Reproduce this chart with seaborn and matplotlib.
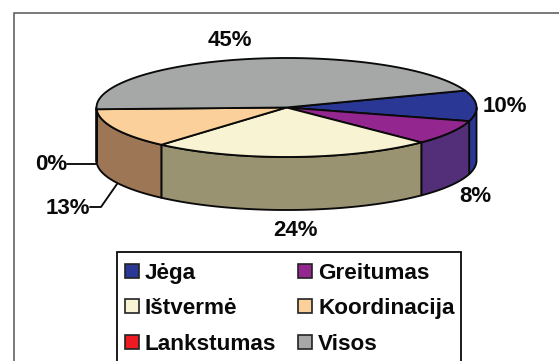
import numpy as np
import matplotlib
matplotlib.use("Agg")
import matplotlib.pyplot as plt
from matplotlib.patches import Rectangle
import seaborn as sns

categories = ["Jėga", "Greitumas", "Ištvermė", "Koordinacija", "Lankstumas", "Visos"]
values = [10, 8, 24, 13, 0, 45]
top_colors = ["#2B3795", "#93278F", "#F8F3D2", "#FBD09A", "#ED1C24", "#A6A8A8"]
side_colors = ["#2B3795", "#522F78", "#999372", "#9C7655", "#7A1015", "#666666"]

sns.set_theme(style="white", font="Liberation Sans")
plt.rcParams["font.weight"] = "bold"

LW = 1.35
INK = "#0A0A0A"
CX, CY, RX, RY, DEPTH = 286.5, 107.5, 190, 49.5, 53
START = 20

fig = plt.figure(figsize=(5.59, 3.61), dpi=100, facecolor="white")
ax = fig.add_axes([0, 0, 1, 1])
ax.set_xlim(0, 559)
ax.set_ylim(361, 0)
ax.axis("off")

# chart frame: top and left edges, the rest runs off the picture
ax.plot([14, 14, 559], [361, 12.5, 12.5], color="#555555", lw=1.1, zorder=1,
        solid_joinstyle="miter")


def rim(t0, t1, n=80):
    t = np.radians(np.linspace(t0, t1, n))
    return CX + RX * np.cos(t), CY - RY * np.sin(t)


# slices run clockwise from the start angle
edges = START - np.cumsum([0] + values) * 3.6

# sides (only the part of each slice facing the viewer)
for i in range(len(values)):
    hi, lo = edges[i], edges[i + 1]
    a, b = min(hi, 0), max(lo, -180)
    if a <= b:
        continue
    x, y = rim(a, b)
    ax.fill(np.r_[x, x[::-1]], np.r_[y, y[::-1] + DEPTH],
            facecolor=side_colors[i], edgecolor=INK, lw=LW, zorder=2,
            joinstyle="round")

# top faces
for i in range(len(values)):
    if values[i] == 0:
        continue
    x, y = rim(edges[i], edges[i + 1])
    ax.fill(np.r_[CX, x], np.r_[CY, y], facecolor=top_colors[i],
            edgecolor=INK, lw=LW, zorder=3, joinstyle="round")

# data labels
label_xy = [(505, 106), (475, 196), (296, 231), (68, 208), (51, 165), (230, 40)]
for v, (lx, ly) in zip(values, label_xy):
    ax.text(lx, ly, f"{v}%", fontsize=16, fontweight="bold", color=INK,
            ha="center", va="center", zorder=5)

# leader lines
ax.plot([67, 96], [164, 164], color=INK, lw=LW, zorder=4)
ax.plot([90, 101, 117], [207, 207, 184], color=INK, lw=LW, zorder=4)

# legend box, cut by the bottom of the picture
ax.add_patch(Rectangle((117, 252), 343.5, 130, facecolor="white", edgecolor=INK,
                       lw=1.3, zorder=4, clip_on=True))
col_x = [125, 298]
row_y = [271, 306, 342]
for i, name in enumerate(categories):
    sx, sy = col_x[i % 2], row_y[i // 2]
    ax.add_patch(Rectangle((sx, sy - 7), 14, 14, facecolor=top_colors[i],
                           edgecolor="#222222", lw=1.2, zorder=5))
    ax.text(sx + 20, sy, name, fontsize=16.2, fontweight="bold", color=INK,
            ha="left", va="center_baseline", zorder=5)

fig.savefig("out.png", dpi=100, facecolor="white")
